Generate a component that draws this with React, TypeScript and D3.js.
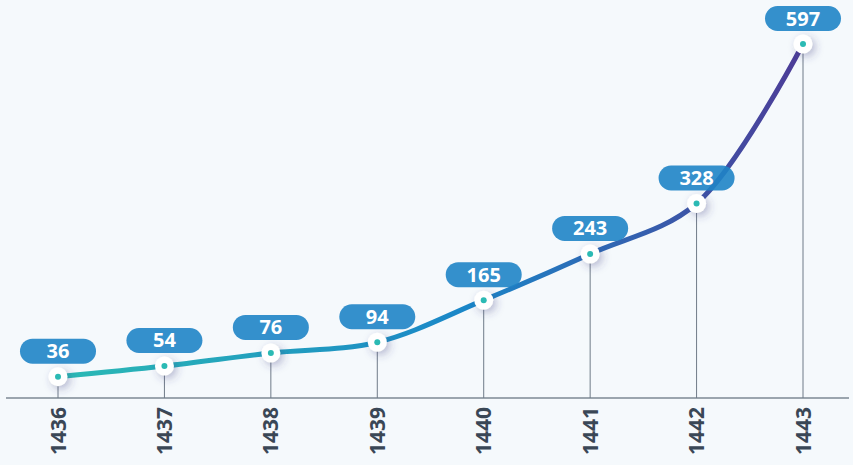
import React from "react";
import * as d3 from "d3";

const years = ["1436", "1437", "1438", "1439", "1440", "1441", "1442", "1443"];
const values = [36, 54, 76, 94, 165, 243, 328, 597];

const W = 853;
const H = 465;
const AXIS_Y = 398;

export default function App() {
  const x = d3.scalePoint<string>().domain(years).range([58, 803]);
  const y = d3.scaleLinear().domain([0, 597]).range([AXIS_Y, 44]);
  const pts = years.map((yr, i) => ({ yr, v: values[i] }));
  const line = d3
    .line<{ yr: string; v: number }>()
    .x((d) => x(d.yr)!)
    .y((d) => y(d.v))
    .curve(d3.curveCatmullRom.alpha(0.5));

  return (
    <svg
      width={W}
      height={H}
      style={{ position: "absolute", left: 0, top: 0, background: "#f5f9fc" }}
      fontFamily="'Open Sans', 'Noto Sans', sans-serif"
    >
      <defs>
        <linearGradient id="lg" gradientUnits="userSpaceOnUse" x1={58} y1={0} x2={803} y2={0}>
          <stop offset="0" stopColor="#2bbab4" />
          <stop offset="0.55" stopColor="#1a86c8" />
          <stop offset="1" stopColor="#4d3c97" />
        </linearGradient>
        <filter id="sh" x="-100%" y="-100%" width="300%" height="300%">
          <feDropShadow dx="3" dy="3" stdDeviation="4" floodColor="#3b3a80" floodOpacity="0.35" />
        </filter>
      </defs>
      <rect x={0} y={0} width={W} height={H} fill="#f5f9fc" />
      <line x1={6} x2={W - 4} y1={AXIS_Y} y2={AXIS_Y} stroke="#7d8894" strokeWidth={1.5} />
      {pts.map((d) => (
        <line
          key={"v" + d.yr}
          x1={x(d.yr)}
          x2={x(d.yr)}
          y1={y(d.v)}
          y2={AXIS_Y}
          stroke="#6f7b88"
          strokeWidth={1}
        />
      ))}
      <path d={line(pts) || ""} fill="none" stroke="url(#lg)" strokeWidth={5} strokeLinecap="round" />
      {pts.map((d) => (
        <g key={"l" + d.yr}>
          <rect
            x={x(d.yr)! - 38}
            y={y(d.v) - 38}
            width={76}
            height={25}
            rx={12.5}
            fill="#1f84c6"
            fillOpacity={0.9}
          />
          <text
            x={x(d.yr)}
            y={y(d.v) - 18.5}
            textAnchor="middle"
            fill="#ffffff"
            fontSize={20}
            fontWeight={700}
          >
            {d.v}
          </text>
        </g>
      ))}
      {pts.map((d) => (
        <g key={"p" + d.yr}>
          <circle cx={x(d.yr)} cy={y(d.v)} r={9.5} fill="#ffffff" filter="url(#sh)" />
          <circle cx={x(d.yr)} cy={y(d.v)} r={3} fill="#2bbab4" />
        </g>
      ))}
      {years.map((yr) => (
        <text
          key={"t" + yr}
          transform={`translate(${x(yr)! + 7.5},${407}) rotate(-90)`}
          textAnchor="end"
          fill="#3a4756"
          fontSize={21}
          fontWeight={700}
        >
          {yr}
        </text>
      ))}
    </svg>
  );
}
